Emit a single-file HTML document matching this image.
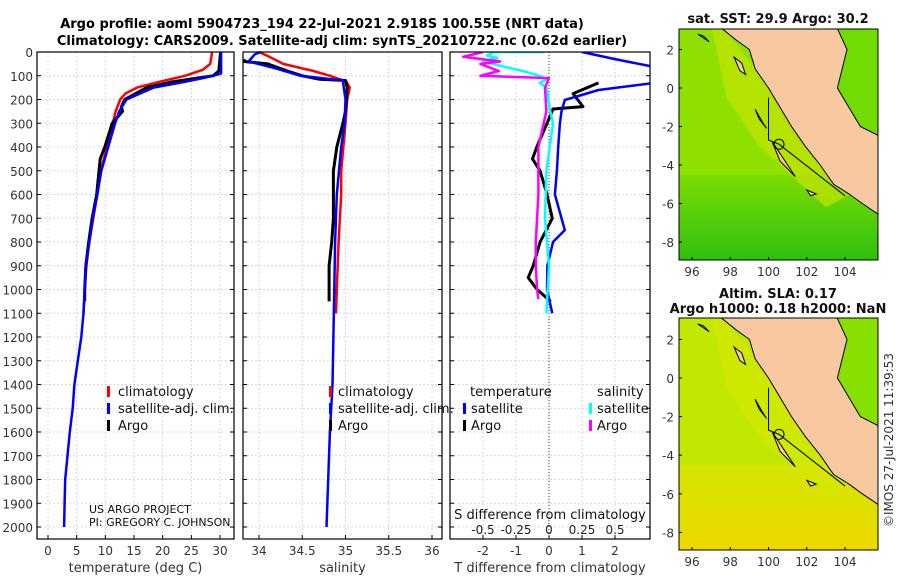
<!DOCTYPE html>
<html><head><meta charset="utf-8"><style>
body{margin:0;background:#fff;width:900px;height:580px;overflow:hidden;font-family:"DejaVu Sans","Liberation Sans",sans-serif}
svg{display:block}
text{font-family:"DejaVu Sans","Liberation Sans",sans-serif}
</style></head><body>
<svg id="c" width="900" height="580" xmlns="http://www.w3.org/2000/svg">
<text x="322" y="28" text-anchor="middle" font-size="13" font-weight="bold">Argo profile: aoml 5904723_194 22-Jul-2021 2.918S 100.55E (NRT data)</text>
<text x="342" y="45" text-anchor="middle" font-size="13" font-weight="bold">Climatology: CARS2009. Satellite-adj clim: synTS_20210722.nc (0.62d earlier)</text>
<g id="plots"></g>
<g id="maps"></g>
<text transform="translate(893,440) rotate(-90)" text-anchor="middle" font-size="12" fill="#333">©IMOS 27-Jul-2021 11:39:53</text>
</svg>
<script>
// ---- data ----
const depthTicks=[0,100,200,300,400,500,600,700,800,900,1000,1100,1200,1300,1400,1500,1600,1700,1800,1900,2000];
const tempTicks=[0,5,10,15,20,25,30];
const salTicks=[34,34.5,35,35.5,36];
const salTickLabels=["34","34.5","35","35.5","36"];
const dTTicks=[-2,-1,0,1,2];
const dSTicks=[-0.5,-0.25,0,0.25,0.5];
const dSTickLabels=["-0.5","-0.25","0","0.25","0.5"];
// temperature profiles
const tempClimDepth=[0,20,50,75,100,125,150,175,200,250,300,400,500,600,700,800,900,1000,1100];
const tempClimVal=[28.6,28.5,28.3,27,23.9,19.5,15.5,13.5,12.6,11.8,11.3,10.3,9.2,8.6,7.9,7.2,6.7,6.4,6.2];
const tempSatDepth=[0,90,100,110,125,150,200,250,300,400,500,600,700,800,900,1000,1100,1200,1300,1400,1500,1600,1700,1800,1900,2000];
const tempSatVal=[30.2,30.2,28.8,27,24,18.4,13.7,12.4,11.7,10.5,9.3,8.6,7.8,7.2,6.6,6.4,6.2,5.8,5.2,4.6,4.3,3.8,3.4,3,2.9,2.8];
const tempArgoDepth=[0,80,100,110,125,150,200,230,250,300,400,450,500,600,700,800,900,1000,1050];
const tempArgoVal=[30.1,29.8,28.8,26,21.8,17.2,13.4,12.8,13,11.2,9.9,9.1,8.9,8.5,7.7,7.1,6.6,6.4,6.4];
// salinity
const salClimDepth=[0,20,50,80,100,125,150,200,300,500,600,800,1000,1100];
const salClimVal=[34,34.12,34.28,34.63,34.82,35.01,35.05,35.02,35,34.95,34.95,34.92,34.9,34.89];
const salSatDepth=[0,10,40,70,100,120,150,200,300,400,600,800,1000,1200,1400,1600,1800,2000];
const salSatVal=[34.02,33.95,33.88,34.2,34.48,34.97,34.98,35,34.99,34.95,34.9,34.88,34.87,34.86,34.85,34.82,34.8,34.78];
const salArgoDepth=[30,40,50,80,100,115,120,150,250,300,400,500,600,700,800,900,1000,1050];
const salArgoVal=[33.83,33.83,34.1,34.33,34.5,34.7,35,35.02,35,34.97,34.9,34.86,34.86,34.86,34.84,34.81,34.81,34.81];
// differences
const dTSatDepth=[0,30,63,130,160,202,250,300,400,500,600,750,800,900,1000,1100];
const dTSatVal=[1,2,3.2,3.2,1.5,0.48,0.38,0.33,0.28,0.24,0.18,0.48,0.12,-0.05,-0.06,0.1];
const dTArgoDepth=[130,175,230,240,300,400,450,500,600,700,800,900,950,1000,1050];
const dTArgoVal=[1.5,0.73,1.03,0.12,-0.06,-0.37,-0.5,-0.27,-0.06,0.1,-0.27,-0.48,-0.63,-0.36,0.05];
const dSArgoDepth=[0,20,40,50,80,100,110,150,250,300,400,500,600,700,800,900,1000,1040];
const dSArgoVal=[-0.5,-0.65,-0.37,-0.52,-0.38,-0.52,0,-0.03,-0.02,-0.04,-0.08,-0.08,-0.08,-0.09,-0.1,-0.1,-0.09,-0.08];
const dSSatDepth=[0,0,15,25,40,60,80,100,115,130,150,250,300,500,700,900,1100];
const dSSatVal=[-0.04,-0.42,-0.47,-0.39,-0.5,-0.35,-0.2,-0.07,-0.02,-0.07,-0.02,0.01,0.03,-0.02,-0.03,0.0,-0.02];

const NS="http://www.w3.org/2000/svg";
function mk(tag,attrs,parent,name,inter){const e=document.createElementNS(NS,tag);for(const k in attrs)e.setAttribute(k,attrs[k]);


parent.appendChild(e);return e;}
const plots=document.getElementById('plots');
const yD=d=>52+d*0.2375;
const FT=52,FB=539;
function panel(x0,x1,xs,ticks,labels,title,pname){
  const g=mk('g',{},plots,pname,false);
  ticks.forEach(t=>{const x=xs(t);mk('line',{x1:x,x2:x,y1:FT,y2:FB,stroke:'#c8cce8','stroke-dasharray':'2,2','stroke-width':0.8},g,'x-grid-line',false);});
  depthTicks.forEach(d=>{const y=yD(d);mk('line',{x1:x0,x2:x1,y1:y,y2:y,stroke:'#c8cce8','stroke-dasharray':'2,2','stroke-width':0.8},g,'y-grid-line',false);
    mk('line',{x1:x0,x2:x0+4,y1:y,y2:y,stroke:'#000'},g,'y-tick',false);mk('line',{x1:x1-4,x2:x1,y1:y,y2:y,stroke:'#000'},g,'y-tick',false);});
  ticks.forEach((t,i)=>{const x=xs(t);mk('line',{x1:x,x2:x,y1:FB-4,y2:FB,stroke:'#000'},g,'x-tick',false);
    if(labels){const tx=mk('text',{x:x,y:FB+16,'text-anchor':'middle','font-size':12,fill:'#333'},g,'x-tick-label',false);tx.textContent=labels[i];}});
  if(title){const tt=mk('text',{x:(x0+x1)/2,y:572,'text-anchor':'middle','font-size':13,fill:'#333'},g,'x-axis-title',false);tt.textContent=title;}
  return g;
}
function line(g,xs,D,V,col,w,name){const p=D.map((d,i)=>xs(V[i]).toFixed(1)+','+yD(d).toFixed(1)).join(' ');
  mk('polyline',{points:p,fill:'none',stroke:col,'stroke-width':w,'stroke-linejoin':'round'},g,name,false);}
function frame(g,x0,x1){mk('rect',{x:x0,y:FT,width:x1-x0,height:FB-FT,fill:'none',stroke:'#000','stroke-width':1.2},g,'axes-frame',false);}
function txt(g,x,y,s,name,size,anchor,fill){const t=mk('text',{x:x,y:y,'font-size':size||13,'text-anchor':anchor||'start',fill:fill||'#111'},g,name,false);t.textContent=s;return t;}
function legMark(g,x,y,col,name){mk('rect',{x:x,y:y-10,width:3,height:11,fill:col},g,name,false);}

// panel 1
const xT=t=>48+t*5.733;
const g1=panel(37,234,xT,tempTicks,tempTicks.map(String),'temperature (deg C)','temperature-panel');
line(g1,xT,tempClimDepth,tempClimVal,'#f00',2.5,'temp-climatology-line');
line(g1,xT,tempArgoDepth,tempArgoVal,'#000',3,'temp-argo-line');
line(g1,xT,tempSatDepth,tempSatVal,'#00f',2.5,'temp-satellite-line');
frame(g1,37,234);
depthTicks.forEach(d=>txt(g1,33,yD(d)+5,String(d),'y-tick-label',12,'end','#333'));
legMark(g1,107,396,'#f00','legend-climatology-marker');txt(g1,118,396,'climatology','legend-climatology');
legMark(g1,107,413,'#00f','legend-satellite-marker');txt(g1,118,413,'satellite-adj. clim.','legend-satellite');
legMark(g1,107,430,'#000','legend-argo-marker');txt(g1,118,430,'Argo','legend-argo');
txt(g1,89,513,'US ARGO PROJECT','project-credit',11);
txt(g1,89,526,'PI: GREGORY C. JOHNSON','pi-credit',11);
// panel 2
const xS=s=>259+(s-34)*86.5;
const g2=panel(243,442,xS,salTicks,salTickLabels,'salinity','salinity-panel');
line(g2,xS,salClimDepth,salClimVal,'#f00',2.5,'sal-climatology-line');
line(g2,xS,salArgoDepth,salArgoVal,'#000',3,'sal-argo-line');
line(g2,xS,salSatDepth,salSatVal,'#00f',2.5,'sal-satellite-line');
frame(g2,243,442);
legMark(g2,329,396,'#f00','legend-climatology-marker');txt(g2,338,396,'climatology','legend-climatology');
legMark(g2,329,413,'#00f','legend-satellite-marker');txt(g2,338,413,'satellite-adj. clim.','legend-satellite');
legMark(g2,329,430,'#000','legend-argo-marker');txt(g2,338,430,'Argo','legend-argo');
// panel 3
const xDT=t=>549+t*33;
const xDS=s=>549+s*132;
const g3=panel(450,650,xDT,dTTicks,dTTicks.map(String),'T difference from climatology','difference-panel');
mk('line',{x1:549,x2:549,y1:FT,y2:FB,stroke:'#556b2f','stroke-dasharray':'1,2','stroke-width':1.2},g3,'zero-line',false);
const cp=mk('clipPath',{id:'cp3'},g3,'clip',false);mk('rect',{x:450,y:FT,width:200,height:FB-FT},cp,'clip-rect',false);
const g3c=mk('g',{'clip-path':'url(#cp3)'},g3,'difference-series',false);
line(g3c,xDT,dTArgoDepth,dTArgoVal,'#000',3,'dT-argo-line');
line(g3c,xDT,dTSatDepth,dTSatVal,'#00f',2.5,'dT-satellite-line');
line(g3c,xDS,dSSatDepth,dSSatVal,'#0ff',2.5,'dS-satellite-line');
line(g3c,xDS,dSArgoDepth,dSArgoVal,'#f0f',2.5,'dS-argo-line');
frame(g3,450,650);
txt(g3,470,396,'temperature','legend-temperature-header');
txt(g3,597,396,'salinity','legend-salinity-header');
legMark(g3,463,413,'#00f','legend-t-satellite-marker');txt(g3,471,413,'satellite','legend-t-satellite');
legMark(g3,463,430,'#000','legend-t-argo-marker');txt(g3,471,430,'Argo','legend-t-argo');
legMark(g3,589,413,'#0ff','legend-s-satellite-marker');txt(g3,597,413,'satellite','legend-s-satellite');
legMark(g3,589,430,'#f0f','legend-s-argo-marker');txt(g3,597,430,'Argo','legend-s-argo');
txt(g3,550,519,'S difference from climatology','s-axis-title',13,'middle');
dSTicks.forEach((s,i)=>txt(g3,xDS(s),534,dSTickLabels[i],'s-tick-label',12,'middle','#222'));

// maps
const maps=document.getElementById('maps');
const land=[[97.3,3.3],[98.3,2.5],[99,2],[99.3,1],[100,0],[100.6,-1],[101.2,-2],[101.9,-3],[102.7,-4],[103.4,-5],[104.2,-5.5],[104.9,-6],[105.8,-6.6],[105.8,-2.5],[104.8,-2],[103.6,0],[104.1,2],[103.5,3.3]];
const islands=[[[98.2,1.6],[98.6,1.3],[98.8,0.7],[98.5,0.9]],[[99.3,-1.1],[99.7,-1.8],[99.9,-2.1],[99.5,-1.6]],[[100.2,-2.8],[100.6,-3.4],[101.4,-4.6],[100.6,-3.8]],[[102,-5.3],[102.5,-5.5],[102.2,-5.6]],[[96.3,2.8],[96.9,2.4],[96.6,2.7]]];
function map(y0,y1,lat2y,colA,colB,colNE,colS1,colS2,title1,title2,name){
  const g=mk('g',{},maps,name,false);
  const X=l=>692+(l-96)*19.13, Y=lat2y;
  const id='mc'+y0;
  const defs=mk('defs',{},g,'defs',false);
  const gr=mk('linearGradient',{id:'gr'+y0,x1:0,y1:0,x2:0,y2:1},defs,'gradient',false);
  mk('stop',{offset:'0','stop-color':colS1},gr,'stop',false);mk('stop',{offset:'1','stop-color':colS2},gr,'stop',false);
  const cp=mk('clipPath',{id:id},g,'clip',false);mk('rect',{x:679,y:y0,width:199,height:y1-y0},cp,'clip-rect',false);
  const gc=mk('g',{'clip-path':'url(#'+id+')'},g,'map-area',false);
  mk('rect',{x:679,y:y0,width:199,height:y1-y0,fill:colA},gc,'ocean',false);
  mk('rect',{x:679,y:Y(-4.5),width:199,height:y1-Y(-4.5),fill:'url(#gr'+y0+')'},gc,'southern-band',false);
  mk('polygon',{points:[[97.5,3.3],[101.3,-1.5],[104.3,-5.5],[103,-6.2],[99.5,-3],[97.8,-0.5],[97,3.3]].map(p=>X(p[0])+','+Y(p[1])).join(' '),fill:colB,opacity:0.7},gc,'coastal-band',false);
  mk('rect',{x:X(103),y:y0,width:100,height:Y(-2.5)-y0,fill:colNE},gc,'ne-ocean',false);
  mk('polygon',{points:land.map(p=>X(p[0]).toFixed(1)+','+Y(p[1]).toFixed(1)).join(' '),fill:'#f8c9a0',stroke:'#000','stroke-width':1},gc,'sumatra-land',false);
  islands.forEach(il=>mk('polygon',{points:il.map(p=>X(p[0]).toFixed(1)+','+Y(p[1]).toFixed(1)).join(' '),fill:'#f8c9a0',stroke:'#000','stroke-width':1},gc,'island',false));
  mk('polyline',{points:[[100,-0.5],[100,-2.7],[100.55,-2.92],[104,-5.6]].map(p=>X(p[0])+','+Y(p[1])).join(' '),fill:'none',stroke:'#000','stroke-width':1},gc,'contour',false);
  mk('circle',{cx:X(100.55),cy:Y(-2.92),r:5,fill:'none',stroke:'#000','stroke-width':1},gc,'argo-location',false);
  mk('rect',{x:679,y:y0,width:199,height:y1-y0,fill:'none',stroke:'#000','stroke-width':1},g,'map-frame',false);
  [96,98,100,102,104].forEach(l=>{mk('line',{x1:X(l),x2:X(l),y1:y1-3,y2:y1,stroke:'#000'},g,'lon-tick',false);txt(g,X(l),y1+16,String(l),'lon-tick-label',12,'middle','#333');});
  [2,0,-2,-4,-6,-8].forEach(la=>{mk('line',{x1:679,x2:682,y1:Y(la),y2:Y(la),stroke:'#000'},g,'lat-tick',false);txt(g,674,Y(la)+5,String(la),'lat-tick-label',12,'end','#333');});
  if(title2){txt(g,778,y0-20,title1,'map-title',13,'middle').setAttribute('font-weight','bold');txt(g,778,y0-5,title2,'map-subtitle',13,'middle').setAttribute('font-weight','bold');}
  else txt(g,778,y0-6,title1,'map-title',13,'middle').setAttribute('font-weight','bold');
}
map(29,260,la=>88-la*19.25,'#8ee000','#c4e400','#70dc00','#7cdc00','#30c010','sat. SST: 29.9 Argo: 30.2',null,'sst-map');
map(318,550,la=>378-la*19.3,'#c0e800','#d4e800','#88e000','#d4e600','#eed800','Altim. SLA: 0.17','Argo h1000: 0.18 h2000: NaN','sla-map');
</script>
</body></html>
